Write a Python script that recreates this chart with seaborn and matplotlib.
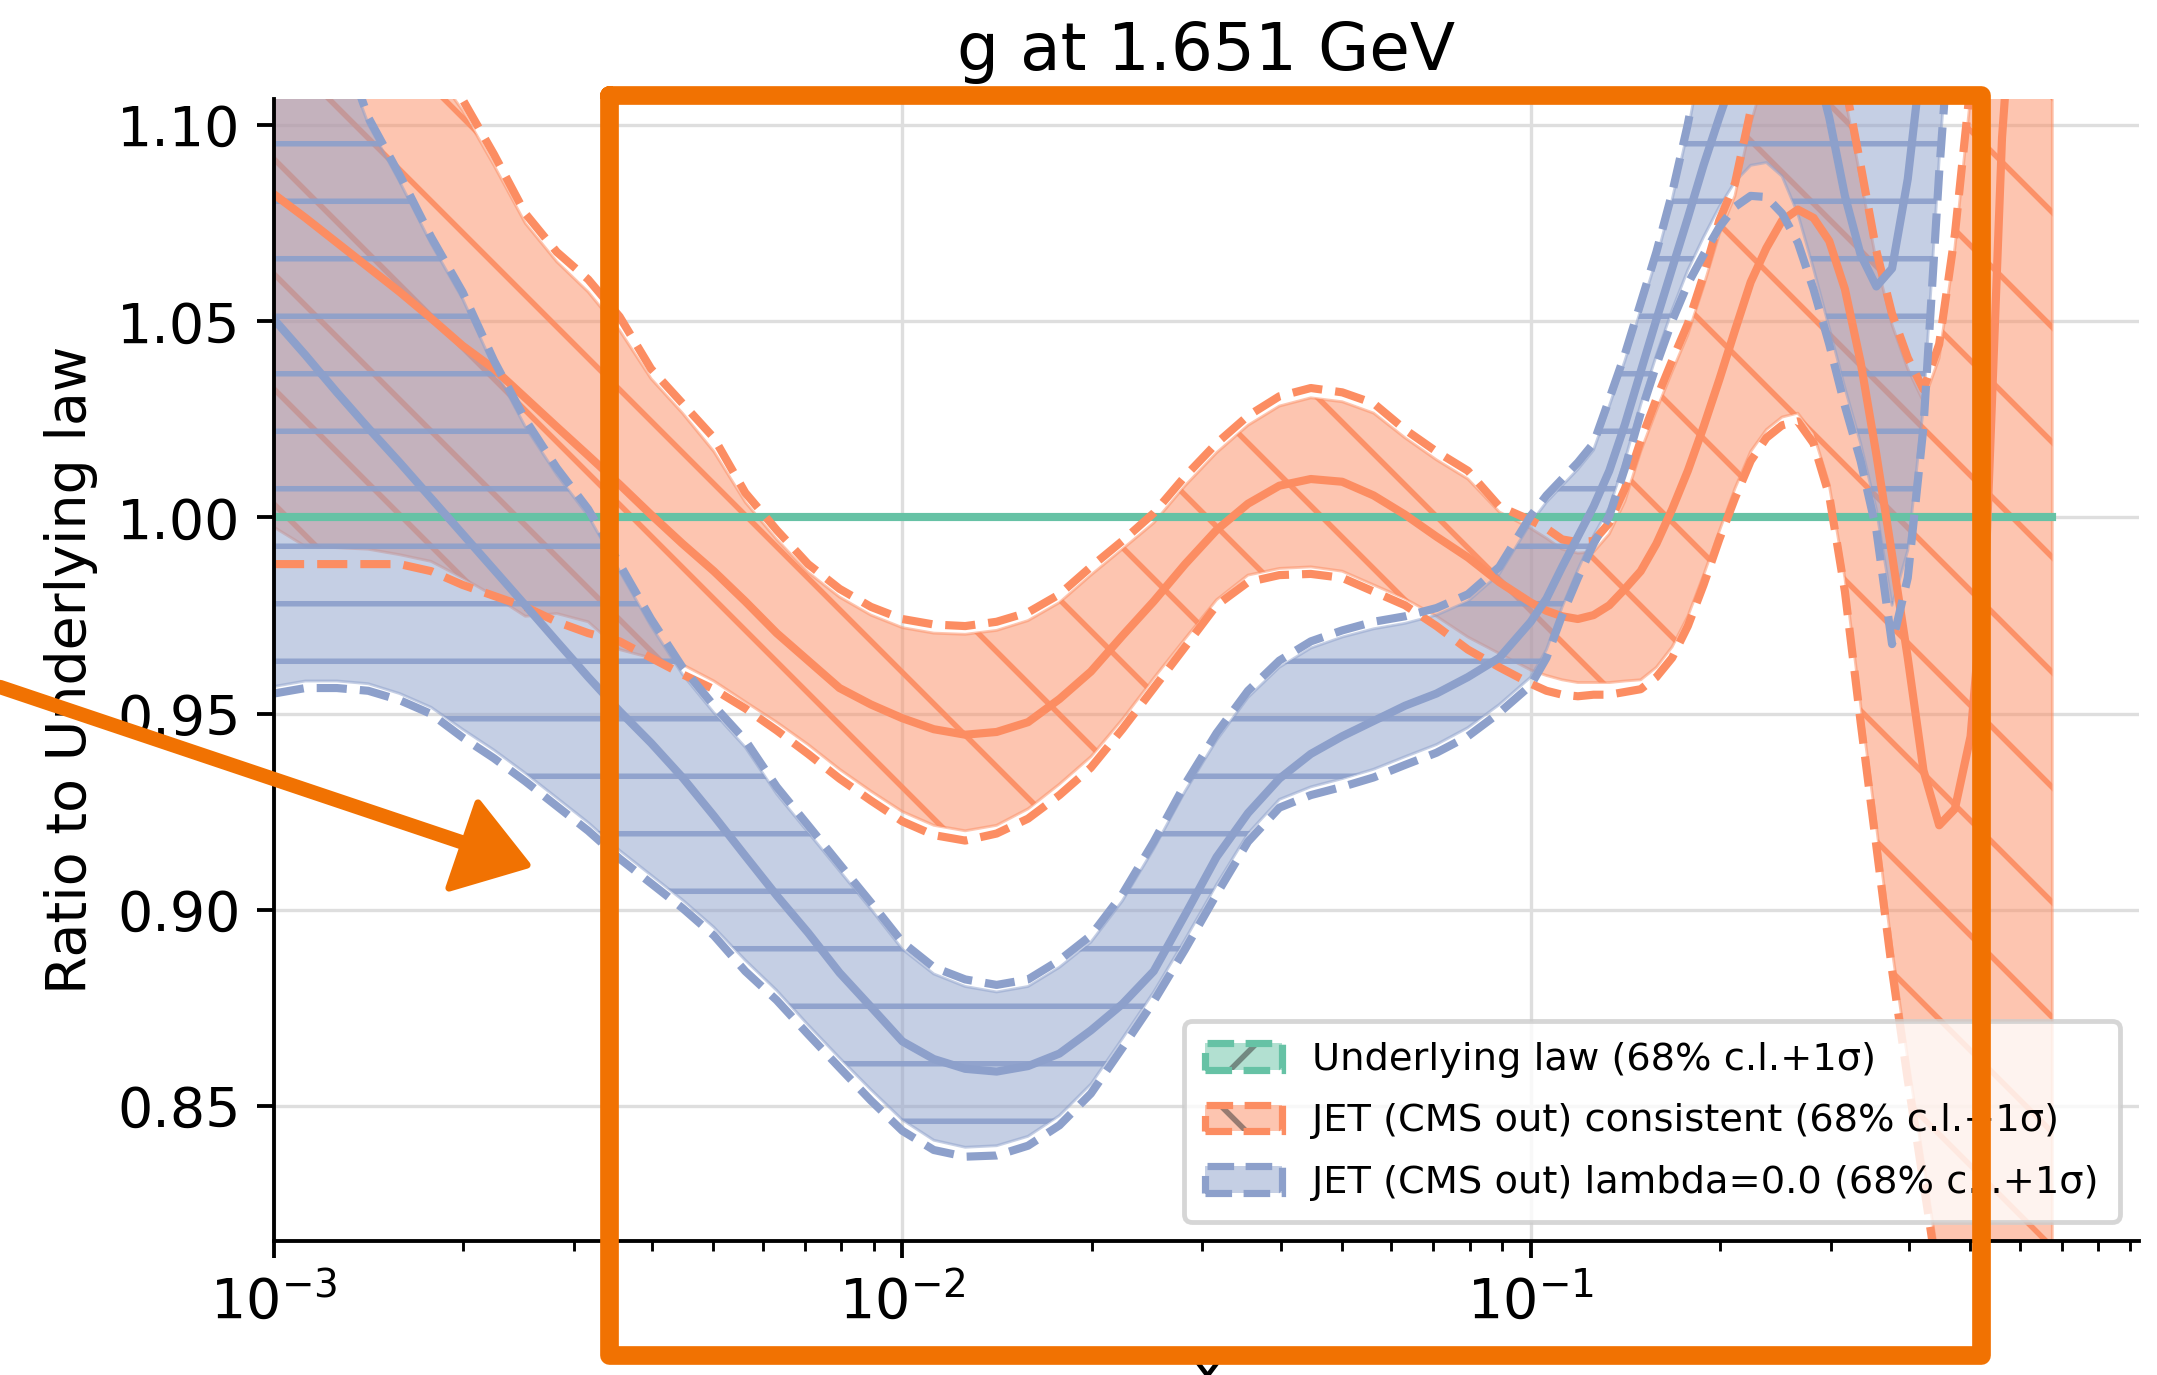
import numpy as np
import matplotlib
matplotlib.use("Agg")
import matplotlib.pyplot as plt
import seaborn as sns
from matplotlib.patches import Rectangle, Polygon
from matplotlib.lines import Line2D
from matplotlib.legend_handler import HandlerTuple
from matplotlib.ticker import FixedLocator, FormatStrFormatter, LogLocator, NullFormatter

# ---------------- data ----------------
log10_x = [-3.0, -2.95, -2.9, -2.85, -2.8, -2.75, -2.7, -2.65, -2.6, -2.55,
           -2.5, -2.45, -2.4, -2.35, -2.3, -2.25, -2.2, -2.15, -2.1, -2.05,
           -2.0, -1.95, -1.9, -1.85, -1.8, -1.75, -1.7, -1.65, -1.6, -1.55,
           -1.5, -1.45, -1.4, -1.35, -1.3, -1.25, -1.2, -1.15, -1.1, -1.05,
           -1.0, -0.975, -0.95, -0.925, -0.9, -0.875, -0.85, -0.825, -0.8, -0.775,
           -0.75, -0.725, -0.7, -0.675, -0.65, -0.625, -0.6, -0.575, -0.55, -0.525,
           -0.5, -0.475, -0.45, -0.425, -0.4, -0.375, -0.35, -0.325, -0.3, -0.275,
           -0.25, -0.225, -0.2, -0.175, -0.17]

# JET (CMS out) consistent
cons_cv = [1.0824, 1.0764, 1.0701, 1.0638, 1.0575, 1.0508, 1.0438, 1.0379, 1.0305, 1.0231,
           1.0158, 1.0084, 1.0007, 0.9933, 0.9863, 0.9786, 0.9705, 0.9635, 0.9565, 0.9523,
           0.9488, 0.9460, 0.9446, 0.9453, 0.9478, 0.9537, 0.9607, 0.9698, 0.9786, 0.9881,
           0.9968, 1.0035, 1.0081, 1.0098, 1.0091, 1.0056, 1.0007, 0.9951, 0.9898, 0.9835,
           0.9783, 0.9762, 0.9748, 0.9741, 0.9751, 0.9776, 0.9818, 0.9863, 0.9933, 1.0021,
           1.0119, 1.0231, 1.0351, 1.0477, 1.0600, 1.0687, 1.0757, 1.0785, 1.0764, 1.0705,
           1.0582, 1.0396, 1.0161, 0.9905, 0.9642, 0.9355, 0.9215, 0.9257, 0.9442, 0.9916,
           1.0968, 1.1529, 1.2195, 1.2721, 1.2791]
cons_hi68 = [1.1564, 1.1494, 1.1424, 1.1336, 1.1248, 1.1150, 1.1038, 1.0898, 1.0750, 1.0652,
             1.0575, 1.0477, 1.0354, 1.0266, 1.0168, 1.0039, 0.9944, 0.9860, 0.9797, 0.9751,
             0.9719, 0.9705, 0.9702, 0.9712, 0.9737, 0.9783, 0.9853, 0.9919, 0.9986, 1.0081,
             1.0165, 1.0235, 1.0284, 1.0305, 1.0295, 1.0266, 1.0203, 1.0147, 1.0098, 1.0014,
             0.9972, 0.9947, 0.9919, 0.9909, 0.9912, 0.9958, 1.0042, 1.0168, 1.0273, 1.0372,
             1.0466, 1.0589, 1.0722, 1.0820, 1.1003, 1.1143, 1.1283, 1.1318, 1.1318, 1.1248,
             1.1073, 1.0863, 1.0652, 1.0491, 1.0379, 1.0295, 1.0407, 1.0687, 1.1073, 1.1564,
             1.2335, 1.2861, 1.3387, 1.3738, 1.3808]
cons_lo68 = [0.9975, 0.9926, 0.9923, 0.9919, 0.9905, 0.9888, 0.9846, 0.9800, 0.9748, 0.9755,
             0.9734, 0.9663, 0.9642, 0.9625, 0.9583, 0.9530, 0.9478, 0.9421, 0.9358, 0.9302,
             0.9250, 0.9215, 0.9201, 0.9215, 0.9257, 0.9320, 0.9390, 0.9485, 0.9590, 0.9691,
             0.9790, 0.9853, 0.9870, 0.9874, 0.9863, 0.9828, 0.9793, 0.9748, 0.9695, 0.9653,
             0.9611, 0.9597, 0.9586, 0.9579, 0.9579, 0.9579, 0.9583, 0.9586, 0.9618, 0.9670,
             0.9748, 0.9853, 0.9965, 1.0074, 1.0168, 1.0224, 1.0256, 1.0266, 1.0214, 1.0084,
             0.9846, 0.9523, 0.9215, 0.8899, 0.8619, 0.8356, 0.8093, 0.7847, 0.7672, 0.7497,
             0.7321, 0.7146, 0.6971, 0.6795, 0.6760]
cons_up1s = [1.1599, 1.1529, 1.1459, 1.1371, 1.1276, 1.1178, 1.1066, 1.0926, 1.0775, 1.0677,
             1.0607, 1.0512, 1.0379, 1.0291, 1.0203, 1.0063, 0.9968, 0.9881, 0.9818, 0.9772,
             0.9741, 0.9727, 0.9723, 0.9734, 0.9758, 0.9804, 0.9874, 0.9940, 1.0011, 1.0105,
             1.0189, 1.0259, 1.0309, 1.0330, 1.0319, 1.0291, 1.0224, 1.0168, 1.0119, 1.0028,
             0.9993, 0.9972, 0.9944, 0.9937, 0.9940, 0.9986, 1.0074, 1.0196, 1.0302, 1.0400,
             1.0494, 1.0617, 1.0757, 1.0852, 1.1038, 1.1178, 1.1318, 1.1353, 1.1353, 1.1283,
             1.1108, 1.0898, 1.0680, 1.0519, 1.0407, 1.0326, 1.0442, 1.0722, 1.1108, 1.1599,
             1.2370, 1.2896, 1.3422, 1.3773, 1.3843]
cons_lo1s = [0.9881, 0.9881, 0.9881, 0.9881, 0.9881, 0.9863, 0.9828, 0.9800, 0.9772, 0.9734,
             0.9705, 0.9684, 0.9642, 0.9600, 0.9562, 0.9513, 0.9457, 0.9397, 0.9334, 0.9278,
             0.9225, 0.9190, 0.9176, 0.9194, 0.9232, 0.9292, 0.9362, 0.9460, 0.9565, 0.9670,
             0.9776, 0.9835, 0.9853, 0.9856, 0.9846, 0.9811, 0.9776, 0.9723, 0.9663, 0.9618,
             0.9576, 0.9558, 0.9548, 0.9544, 0.9548, 0.9548, 0.9555, 0.9562, 0.9593, 0.9642,
             0.9723, 0.9828, 0.9944, 1.0049, 1.0144, 1.0203, 1.0235, 1.0245, 1.0189, 1.0056,
             0.9811, 0.9478, 0.9162, 0.8846, 0.8566, 0.8303, 0.8040, 0.7812, 0.7637, 0.7461,
             0.7286, 0.7111, 0.6935, 0.6760, 0.6725]

# JET (CMS out) lambda=0.0
lam_cv = [1.0505, 1.0414, 1.0319, 1.0228, 1.0140, 1.0049, 0.9958, 0.9867, 0.9776, 0.9684,
          0.9593, 0.9506, 0.9425, 0.9337, 0.9239, 0.9137, 0.9036, 0.8941, 0.8839, 0.8752,
          0.8664, 0.8619, 0.8594, 0.8587, 0.8601, 0.8633, 0.8692, 0.8759, 0.8843, 0.8987,
          0.9134, 0.9246, 0.9334, 0.9397, 0.9442, 0.9481, 0.9520, 0.9551, 0.9593, 0.9642,
          0.9734, 0.9793, 0.9874, 0.9951, 1.0028, 1.0119, 1.0238, 1.0372, 1.0505, 1.0635,
          1.0764, 1.0898, 1.1020, 1.1136, 1.1248, 1.1318, 1.1353, 1.1318, 1.1178, 1.1020,
          1.0820, 1.0670, 1.0589, 1.0635, 1.0863, 1.1213, 1.1669, 1.2195, 1.2721, 1.3247,
          1.3773, 1.4299, 1.4825, 1.5175, 1.5245]
lam_hi68 = [1.1430, 1.1360, 1.1220, 1.1003, 1.0856, 1.0698, 1.0558, 1.0382, 1.0231, 1.0109,
            1.0004, 0.9863, 0.9723, 0.9600, 0.9502, 0.9414, 0.9295, 0.9197, 0.9099, 0.9001,
            0.8899, 0.8836, 0.8804, 0.8790, 0.8804, 0.8853, 0.8917, 0.9022, 0.9155, 0.9302,
            0.9432, 0.9541, 0.9618, 0.9667, 0.9695, 0.9716, 0.9730, 0.9751, 0.9786, 0.9856,
            0.9986, 1.0039, 1.0081, 1.0123, 1.0172, 1.0284, 1.0400, 1.0529, 1.0659, 1.0810,
            1.0985, 1.1196, 1.1406, 1.1600, 1.1750, 1.1850, 1.1920, 1.1960, 1.1960, 1.1920,
            1.1890, 1.1850, 1.1850, 1.1890, 1.2000, 1.2170, 1.2410, 1.2690, 1.3040, 1.3390,
            1.3900, 1.4400, 1.4900, 1.5400, 1.5500]
lam_lo68 = [0.9569, 0.9583, 0.9583, 0.9576, 0.9551, 0.9516, 0.9460, 0.9407, 0.9348, 0.9285,
            0.9222, 0.9151, 0.9088, 0.9025, 0.8955, 0.8871, 0.8794, 0.8706, 0.8622, 0.8541,
            0.8464, 0.8412, 0.8394, 0.8398, 0.8422, 0.8475, 0.8555, 0.8671, 0.8790, 0.8924,
            0.9064, 0.9194, 0.9281, 0.9313, 0.9334, 0.9358, 0.9390, 0.9421, 0.9464, 0.9523,
            0.9593, 0.9663, 0.9772, 0.9867, 0.9954, 1.0025, 1.0147, 1.0288, 1.0414, 1.0529,
            1.0631, 1.0715, 1.0792, 1.0856, 1.0898, 1.0905, 1.0870, 1.0775, 1.0635, 1.0484,
            1.0330, 1.0189, 1.0021, 0.9776, 0.9916, 1.0284, 1.0915, 1.1459, 1.1800, 1.2250,
            1.2670, 1.3100, 1.3500, 1.3900, 1.3970]
lam_up1s = [1.1459, 1.1388, 1.1248, 1.1020, 1.0873, 1.0715, 1.0575, 1.0400, 1.0249, 1.0126,
            1.0021, 0.9881, 0.9741, 0.9618, 0.9520, 0.9432, 0.9313, 0.9215, 0.9116, 0.9018,
            0.8917, 0.8853, 0.8822, 0.8808, 0.8822, 0.8871, 0.8934, 0.9039, 0.9173, 0.9320,
            0.9450, 0.9558, 0.9635, 0.9684, 0.9712, 0.9734, 0.9748, 0.9769, 0.9804, 0.9874,
            1.0004, 1.0056, 1.0098, 1.0140, 1.0189, 1.0302, 1.0417, 1.0547, 1.0677, 1.0827,
            1.1003, 1.1213, 1.1424, 1.1634, 1.1774, 1.1879, 1.1950, 1.1985, 1.1985, 1.1950,
            1.1914, 1.1879, 1.1879, 1.1914, 1.2020, 1.2195, 1.2440, 1.2721, 1.3072, 1.3422,
            1.4000, 1.4500, 1.5000, 1.5500, 1.5600]
lam_lo1s = [0.9551, 0.9565, 0.9565, 0.9558, 0.9534, 0.9499, 0.9439, 0.9386, 0.9327, 0.9264,
            0.9201, 0.9130, 0.9067, 0.9004, 0.8934, 0.8843, 0.8769, 0.8682, 0.8597, 0.8513,
            0.8436, 0.8387, 0.8370, 0.8373, 0.8398, 0.8450, 0.8531, 0.8647, 0.8766, 0.8899,
            0.9039, 0.9173, 0.9260, 0.9292, 0.9313, 0.9337, 0.9369, 0.9400, 0.9442, 0.9502,
            0.9572, 0.9642, 0.9751, 0.9846, 0.9933, 1.0004, 1.0126, 1.0266, 1.0389, 1.0501,
            1.0596, 1.0670, 1.0740, 1.0792, 1.0820, 1.0817, 1.0775, 1.0701, 1.0582, 1.0442,
            1.0284, 1.0144, 0.9968, 0.9677, 0.9846, 1.0231, 1.0880, 1.1424, 1.1844, 1.2300,
            1.2721, 1.3142, 1.3562, 1.3948, 1.4018]

labels = ["Underlying law (68% c.l.+1σ)",
          "JET (CMS out) consistent (68% c.l.+1σ)",
          "JET (CMS out) lambda=0.0 (68% c.l.+1σ)"]
hatches = ["/", "\\", "-"]
legend_hatches = ["/", "\\", ""]
title = "g at 1.651 GeV"
ylabel = "Ratio to Underlying law"
xlabel = "x"
ytick_values = [0.85, 0.90, 0.95, 1.00, 1.05, 1.10]

# ---------------- figure ----------------
W, H, DPI = 2157, 1375, 345
plt.rcParams["hatch.linewidth"] = 1.15
fig = plt.figure(figsize=(W / DPI, H / DPI), dpi=DPI)
ax = fig.add_axes([274 / W, (H - 1241) / H, (2139 - 274) / W, (1241 - 99) / H])

pal = sns.color_palette("Set2", 3)
green, orange, blue = pal[0], pal[1], pal[2]

x = 10 ** np.array(log10_x)
ones = np.ones_like(x)

ax.set_xscale("log")
ax.set_axisbelow(True)
ax.grid(True, which="major", color="#dedede", lw=0.7)


def band(lo, hi, col, hatch):
    # translucent 68% c.l. fill with thin edge
    ax.fill_between(x, lo, hi, facecolor=col, edgecolor=col, alpha=0.5, lw=0.6, zorder=1)
    # hatch drawn on top of the fill
    ax.fill_between(x, lo, hi, facecolor="none", edgecolor=(*col, 0.92), hatch=hatch,
                    lw=0, zorder=1)


band(ones, ones, green, hatches[0])
band(cons_lo68, cons_hi68, orange, hatches[1])
band(lam_lo68, lam_hi68, blue, hatches[2])

LW = 1.7
kw = dict(ax=ax, lw=LW, sort=False, estimator=None)
# underlying law
sns.lineplot(x=x, y=ones, color=green, **kw)
# consistent
sns.lineplot(x=x, y=cons_cv, color=orange, **kw)
sns.lineplot(x=x, y=cons_up1s, color=orange, ls="--", **kw)
sns.lineplot(x=x, y=cons_lo1s, color=orange, ls="--", **kw)
# lambda = 0
sns.lineplot(x=x, y=lam_cv, color=blue, **kw)
sns.lineplot(x=x, y=lam_up1s, color=blue, ls="--", **kw)
sns.lineplot(x=x, y=lam_lo1s, color=blue, ls="--", **kw)

ax.set_xlim(1e-3, 10 ** (-0.032))
ax.set_ylim(0.8155, 1.1067)

ax.yaxis.set_major_locator(FixedLocator(ytick_values))
ax.yaxis.set_major_formatter(FormatStrFormatter("%.2f"))
ax.xaxis.set_major_locator(LogLocator(base=10, numticks=10))
ax.xaxis.set_minor_locator(LogLocator(base=10, subs=np.arange(2, 10), numticks=20))
ax.xaxis.set_minor_formatter(NullFormatter())

for s in ["top", "right"]:
    ax.spines[s].set_visible(False)
for s in ["left", "bottom"]:
    ax.spines[s].set_linewidth(0.8)
    ax.spines[s].set_color("black")
ax.tick_params(axis="both", which="major", labelsize=11.6, length=3.5, width=0.8, color="black")
ax.tick_params(axis="x", which="minor", length=2.0, width=0.6, color="black")

ax.set_title(title, fontsize=13.8, pad=6)
ax.set_ylabel(ylabel, fontsize=11.6)
ax.set_xlabel(xlabel, fontsize=11.6)

# legend
handles = []
for col, h in zip([green, orange, blue], legend_hatches):
    face = Rectangle((0, 0), 1, 1, facecolor=col, alpha=0.5, hatch=h,
                     edgecolor="#333333", lw=0)
    edge = Rectangle((0, 0), 1, 1, fill=False, edgecolor=col, ls="--", lw=1.5)
    handles.append((face, edge))
leg = ax.legend(handles, labels, loc="lower right", fontsize=8, framealpha=0.8,
                edgecolor="0.8", fancybox=True, labelspacing=0.66, borderpad=0.55,
                handler_map={tuple: HandlerTuple(ndivide=1)})

# hand-drawn highlight (annotation overlay)
hl = "#f17202"
rx0, rx1 = 609 / W, 1981 / W
ry0, ry1 = 1 - 1355 / H, 1 - 95 / H
rect = Line2D([rx0, rx1, rx1, rx0, rx0], [ry1, ry1, ry0, ry0, ry1],
              transform=fig.transFigure, color=hl, lw=3.9, solid_joinstyle="round",
              solid_capstyle="round", zorder=20)
fig.add_artist(rect)

arrow_line = Line2D([0 / W, 470 / W], [1 - 687 / H, 1 - 845 / H],
                    transform=fig.transFigure, color=hl, lw=3.0, solid_capstyle="round",
                    zorder=20)
fig.add_artist(arrow_line)
head = Polygon([[478 / W, 1 - 803 / H], [527 / W, 1 - 865 / H], [449 / W, 1 - 888 / H]],
               closed=True, transform=fig.transFigure, facecolor=hl, edgecolor=hl,
               lw=1.5, joinstyle="round", zorder=20)
fig.add_artist(head)

fig.savefig("out.png", dpi=DPI)
